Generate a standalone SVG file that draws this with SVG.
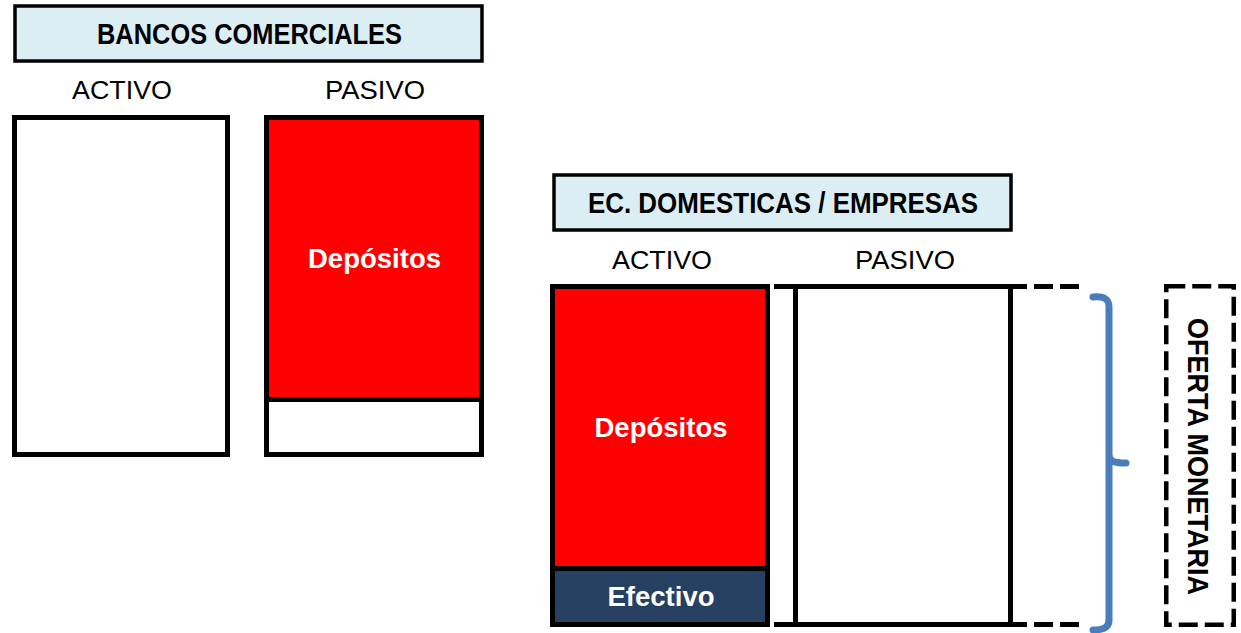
<svg xmlns="http://www.w3.org/2000/svg" width="1241" height="633" viewBox="0 0 1241 633">
<style>
.title{fill:#DBEEF4;stroke:#000;stroke-width:3.5}
.tt{font-family:"Liberation Sans",Arial,sans-serif;font-weight:bold;font-size:29px;fill:#000;text-anchor:middle}
.lbl{font-family:"Liberation Sans",Arial,sans-serif;font-size:26px;fill:#000;text-anchor:middle}
.wt{font-family:"Liberation Sans",Arial,sans-serif;font-weight:bold;font-size:28px;fill:#fff;text-anchor:middle}
.box{fill:none;stroke:#000;stroke-width:5}
.ln{stroke:#000;stroke-width:5;fill:none}
.dash{stroke:#000;stroke-width:4.5;fill:none;stroke-dasharray:19 7}
</style>
<rect width="1241" height="633" fill="#fff"/>
<g id="bancos-title">
<rect class="title" x="15" y="6" width="467" height="55"/>
<text class="tt" x="249.5" y="44" textLength="305" lengthAdjust="spacingAndGlyphs">BANCOS COMERCIALES</text>
</g>
<g id="bancos-activo">
<text class="lbl" x="122" y="99" textLength="100" lengthAdjust="spacingAndGlyphs">ACTIVO</text>
<rect class="box" x="14.5" y="117.5" width="213" height="337" fill="#fff"/>
</g>
<g id="bancos-pasivo">
<text class="lbl" x="375" y="99" textLength="100" lengthAdjust="spacingAndGlyphs">PASIVO</text>
<rect x="269" y="120" width="210" height="279" fill="#FF0000"/>
<line class="ln" x1="264" y1="399.5" x2="484" y2="399.5"/>
<rect class="box" x="266.5" y="117.5" width="215" height="337"/>
<text class="wt" x="374.5" y="268" textLength="133" lengthAdjust="spacingAndGlyphs">Depósitos</text>
</g>
<g id="ec-title">
<rect class="title" x="554" y="175" width="457" height="55"/>
<text class="tt" x="783" y="213" textLength="390" lengthAdjust="spacingAndGlyphs">EC. DOMESTICAS / EMPRESAS</text>
</g>
<g id="ec-activo">
<text class="lbl" x="662" y="269" textLength="100" lengthAdjust="spacingAndGlyphs">ACTIVO</text>
<rect x="555" y="289" width="210" height="279" fill="#FF0000"/>
<rect x="555" y="569" width="210" height="54" fill="#254061"/>
<line class="ln" x1="550" y1="568.5" x2="770" y2="568.5"/>
<rect class="box" x="552.5" y="286.5" width="215" height="338"/>
<text class="wt" x="661" y="437" textLength="133" lengthAdjust="spacingAndGlyphs">Depósitos</text>
<text class="wt" x="661" y="606" textLength="107" lengthAdjust="spacingAndGlyphs">Efectivo</text>
</g>
<g id="ec-pasivo">
<text class="lbl" x="905" y="269" textLength="100" lengthAdjust="spacingAndGlyphs">PASIVO</text>
<line class="ln" x1="774" y1="286.5" x2="1027" y2="286.5"/>
<line class="ln" x1="774" y1="624.5" x2="1027" y2="624.5"/>
<line class="ln" x1="795.5" y1="284" x2="795.5" y2="627"/>
<line class="ln" x1="1010.5" y1="284" x2="1010.5" y2="627"/>
<line class="ln" x1="1034" y1="286.5" x2="1080" y2="286.5" stroke-dasharray="19 7"/>
<line class="ln" x1="1034" y1="624.5" x2="1080" y2="624.5" stroke-dasharray="19 7"/>
</g>
<g id="connectors">
<path d="M1093,297 C1104,296 1109,299 1109,307 L1109,620 C1109,627 1104,630 1093,630 M1109,454 C1109,461 1113,463 1126,463" fill="none" stroke="#4A7EBB" stroke-width="7" stroke-linecap="round" stroke-linejoin="round"/>
</g>
<g id="oferta-monetaria">
<rect class="dash" x="1166.25" y="286.25" width="67.5" height="338.5"/>
<text class="tt" transform="translate(1188,456.5) rotate(90)" x="0" y="0" style="font-size:30px" textLength="277" lengthAdjust="spacingAndGlyphs">OFERTA MONETARIA</text>
</g>
</svg>
